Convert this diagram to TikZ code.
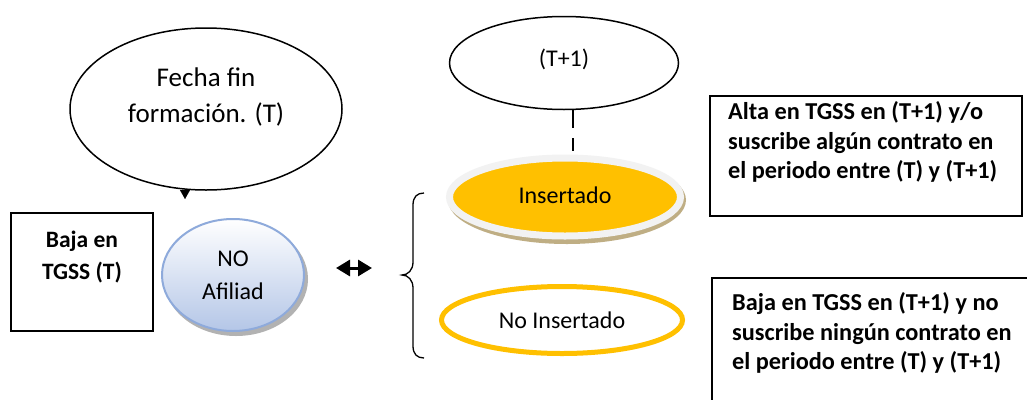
\documentclass[tikz,border=0pt]{standalone}
\usepackage{fontspec}
\setmainfont{Carlito}
\usetikzlibrary{shapes.geometric,arrows.meta,backgrounds}
\definecolor{gold}{HTML}{FFC000}
\definecolor{rim}{HTML}{F2F2F2}
\definecolor{tan}{HTML}{BFAE84}
\definecolor{bluebd}{HTML}{8EAADB}
\definecolor{bluefill}{HTML}{B4C6E7}
\begin{document}
\begin{tikzpicture}[x=1pt,y=-1pt,
  ell/.style={ellipse,draw=black,line width=1.5pt,fill=white,inner sep=0pt},
  box/.style={rectangle,draw=black,line width=2pt,fill=white,inner sep=0pt},
  reg/.style={font=\fontsize{24}{33}\selectfont,align=center,inner sep=0pt},
  big/.style={font=\fontsize{27}{36}\selectfont,align=center,inner sep=0pt},
  bldl/.style={font=\fontsize{23.5}{32}\selectfont\bfseries,inner sep=0pt},
  bld/.style={font=\fontsize{24.3}{29.5}\selectfont\bfseries,inner sep=0pt},
  ptr/.style={-{Triangle[length=9pt,width=10pt]},line width=0.1pt},
  ptrb/.style={-{Triangle[length=13pt,width=13pt]},line width=0.1pt},
  dbl/.style={{Triangle[length=14pt,width=16pt]}-{Triangle[length=14pt,width=16pt]},line width=3pt},
  dsh/.style={line width=2.5pt,dash pattern=on 18pt off 10pt}]
\clip (0,0) rectangle (1027,399);
\fill[white] (0,0) rectangle (1027,399);

% left ellipse
\node[ell,minimum width=272pt,minimum height=162pt,
  label={[big,yshift=12pt]center:Fecha fin\\formación. (T)}] (fecha) at (206,109) {};
\coordinate (p1) at (185,199);
\draw[ptr] (fecha.south -| p1) -- (p1);

% left box
\node[box,minimum width=142pt,minimum height=118pt,anchor=north west,
  label={[bldl,align=center,yshift=15pt]center:Baja en\\TGSS (T)}] (baja) at (10,212) {};

% NO Afiliad
\fill[black!30] (236,279) ellipse [x radius=72, y radius=57];
\node[ellipse,draw=bluebd,line width=2pt,top color=white,bottom color=bluefill,
  minimum width=142pt,minimum height=112pt,inner sep=0pt,
  label={[reg]center:NO\\Afiliad}] (noaf) at (233,275) {};

% double arrow
\coordinate (a1) at (336,268);
\coordinate (a2) at (372,268);
\draw[dbl] (a1) -- (a2);

% brace
\draw[line width=1.3pt] (424,193) .. controls (417,193) and (413,197) .. (413,205) -- (413,262)
  .. controls (413,270) and (408,275) .. (402,275) .. controls (408,275) and (413,280) .. (413,288)
  -- (413,346) .. controls (413,354) and (417,358) .. (424,358);

% T+1 ellipse
\node[ell,minimum width=229pt,minimum height=93pt,
  label={[reg,yshift=4pt]center:(T+1)}] (t1) at (564,63) {};

% Insertado
\fill[tan] (567,200) ellipse [x radius=119, y radius=44];
\node[ellipse,draw=rim,line width=7pt,fill=gold,
  minimum width=231pt,minimum height=78pt,inner sep=0pt,
  label={[reg,yshift=2pt]center:Insertado}] (ins) at (565,197) {};

\coordinate (dx) at (573,0);
\draw[dsh] (t1.south -| dx) -- ([yshift=3.5pt]ins.north -| dx);

\coordinate (p2) at (573,258);
\begin{scope}[on background layer]
\draw[ptrb] ([yshift=-3pt]ins.south -| p2) -- (p2);
\end{scope}

% No Insertado
\node[ellipse,draw=gold,line width=5pt,fill=white,
  minimum width=241pt,minimum height=67pt,inner sep=0pt,
  label={[reg]center:No Insertado}] (noins) at (562,320) {};

% right boxes
\node[box,minimum width=312pt,minimum height=120pt,anchor=north west,
  label={[bld,align=left,anchor=west,xshift=19pt,yshift=14pt]west:Alta en TGSS en (T+1) y/o\\suscribe algún contrato en\\el periodo entre (T) y (T+1)}] (alta) at (709,95) {};
\node[box,minimum width=330pt,minimum height=133pt,anchor=north west,
  label={[bld,align=left,anchor=west,xshift=21pt,yshift=11.5pt]west:Baja en TGSS en (T+1) y no\\suscribe ningún contrato en\\el periodo entre (T) y (T+1)}] (bajat1) at (711,277) {};
\end{tikzpicture}
\end{document}
